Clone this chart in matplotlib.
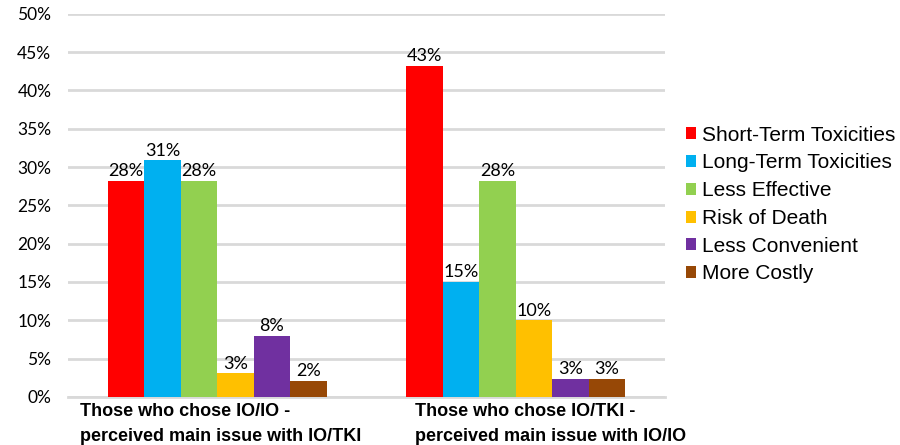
import numpy as np
import matplotlib.pyplot as plt

# Daten
groups = ["Those who chose IO/IO -\nperceived main issue with IO/TKI",
          "Those who chose IO/TKI -\nperceived main issue with IO/IO"]
series = ["Short-Term Toxicities", "Long-Term Toxicities", "Less Effective",
          "Risk of Death", "Less Convenient", "More Costly"]
vals_io_io = [28.2, 30.9, 28.2, 3.1, 8.0, 2.1]
vals_io_tki = [43.2, 15.0, 28.2, 10.0, 2.4, 2.4]
labels_io_io = ["28%", "31%", "28%", "3%", "8%", "2%"]
labels_io_tki = ["43%", "15%", "28%", "10%", "3%", "3%"]
colors = ["#FF0000", "#00B0F0", "#92D050", "#FFC000", "#7030A0", "#974806"]

values = np.array([vals_io_io, vals_io_tki])
texts = [labels_io_io, labels_io_tki]

fig = plt.figure(figsize=(9, 4.45), dpi=100)
ax = fig.add_axes([0.0756, 0.108, 0.663, 0.861])

x = np.arange(len(groups))
w = 0.1223
for i, name in enumerate(series):
    pos = x + (i - 2.5) * w
    bars = ax.bar(pos, values[:, i], width=w, color=colors[i], label=name, zorder=3)
    for b, t in zip(bars, [texts[0][i], texts[1][i]]):
        ax.text(b.get_x() + b.get_width() / 2, b.get_height() + 0.2, t,
                ha="center", va="bottom", fontsize=13, family="Lato", zorder=4)

ax.set_xlim(-0.5, 1.5)
ax.set_ylim(0, 50)
ax.set_yticks(np.arange(0, 51, 5))
ax.set_yticklabels([f"{v}%" for v in range(0, 51, 5)], family="Lato", fontsize=12.5)
ax.set_xticks([])
ax.tick_params(axis="y", length=0, pad=12)
ax.grid(axis="y", color="#D9D9D9", linewidth=2, zorder=0)
for s in ["top", "right", "left"]:
    ax.spines[s].set_visible(False)
ax.spines["bottom"].set_color("#D9D9D9")
ax.spines["bottom"].set_linewidth(2)

fig.text(80 / 900, 1 - 403 / 445, groups[0], ha="left", va="top",
         fontsize=13, fontweight="bold", family="Liberation Sans", linespacing=1.6)
fig.text(415 / 900, 1 - 403 / 445, groups[1], ha="left", va="top",
         fontsize=13, fontweight="bold", family="Liberation Sans", linespacing=1.6)

leg = ax.legend(loc="center left", bbox_to_anchor=(1.0, 0.502), frameon=False,
                prop={"family": "Liberation Sans", "size": 15},
                handlelength=0.5, handleheight=0.5, handletextpad=0.3,
                labelspacing=0.42, borderaxespad=0.6)

fig.savefig("out.png", dpi=100)
